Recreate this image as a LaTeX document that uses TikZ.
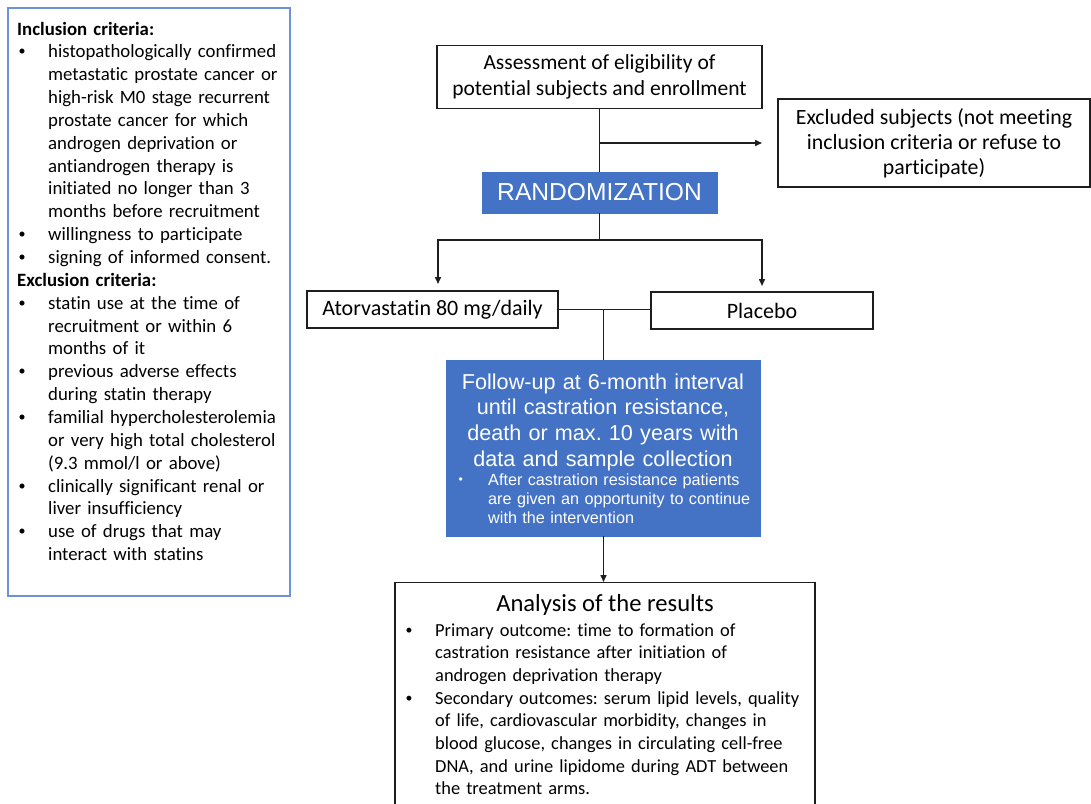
\documentclass[tikz,border=0pt]{standalone}
\usepackage{fontspec}
\usepackage{graphicx}
\setmainfont{Carlito}[Ligatures=NoCommon]
\newfontfamily\arialf{Liberation Sans}
\usetikzlibrary{arrows.meta}
\definecolor{rblue}{HTML}{4472C4}
\definecolor{frameblue}{HTML}{6C93D8}
\definecolor{ink}{HTML}{1E1E1E}
\newcommand{\smallbul}{\hspace{0.08em}\raisebox{0.1em}{\scalebox{0.75}{•}}}
\newcommand{\litemfirst}[1]{\hangindent=#1\hangafter=1\noindent\makebox[#1][l]{\smallbul}}
\newcommand{\litem}[1]{\par\litemfirst{#1}}
\newcommand{\lhead}[1]{\par\noindent\textbf{#1}}
\frenchspacing
\begin{document}
\begin{tikzpicture}[x=1pt,y=-1pt,
  box/.style={draw=ink, line width=1.3pt, fill=white, inner sep=0pt},
  bluebox/.style={fill=rblue, draw=rblue, inner sep=0pt},
  conn/.style={draw=ink, line width=1.5pt},
  arr/.style={conn, -{Triangle[length=7pt,width=6pt]}},
  txt/.style={inner sep=0pt}
]
\useasboundingbox (0,0) rectangle (1091,803);
\fill[white] (0,0) rectangle (1091,803);

% criteria box
\node[draw=frameblue, line width=1.3pt, minimum width=282pt, minimum height=588pt, inner sep=0pt] (crit) at (149,302) {};
\node[txt, anchor=base west, text width=272pt, font=\frenchspacing\fontsize{18.8}{22.85}\selectfont] (crittext) at (17,35) {%
\noindent\textbf{Inclusion criteria:}
\litem{31pt}histopathologically confirmed\newline metastatic prostate cancer or\newline high-risk M0 stage recurrent\newline prostate cancer for which\newline androgen deprivation or\newline antiandrogen therapy is\newline initiated no longer than 3\newline months before recruitment
\litem{31pt}willingness to participate
\litem{31pt}signing of informed consent.
\lhead{Exclusion criteria:}
\litem{31pt}statin use at the time of\newline recruitment or within 6\newline months of it
\litem{31pt}previous adverse effects\newline during statin therapy
\litem{31pt}familial hypercholesterolemia\newline or very high total cholesterol\newline (9.3 mmol/l or above)
\litem{31pt}clinically significant renal or\newline liver insufficiency
\litem{31pt}use of drugs that may\newline interact with statins\par};

% main flow
\node[box, minimum width=325pt, minimum height=63pt, align=center, font=\fontsize{21.5}{26.5}\selectfont] (assess) at (599.5,77) {Assessment of eligibility of\\ potential subjects and enrollment};
\node[box, minimum width=312pt, minimum height=88pt, align=center, font=\fontsize{21.8}{25}\selectfont] (excl) at (934,143) {Excluded subjects (not meeting\\ inclusion criteria or refuse to\\ participate)};
\node[bluebox, minimum width=235pt, minimum height=41pt, text=white, font=\arialf\fontsize{24.6}{28}\selectfont] (rand) at (599.5,192.5) {RANDOMIZATION};
\node[box, minimum width=251pt, minimum height=37pt, font=\fontsize{22}{24}\selectfont] (ator) at (432.5,309.5) {Atorvastatin 80 mg/daily};
\node[box, minimum width=222pt, minimum height=37pt, font=\fontsize{22}{24}\selectfont] (plac) at (762,310.5) {Placebo};

\node[bluebox, minimum width=314pt, minimum height=176pt] (follow) at (603.5,448) {};
\node[txt, anchor=base, text width=310pt, align=center, text=white, font=\arialf\fontsize{21.6}{25.7}\selectfont] (followtext) at (603,389) {Follow-up at 6-month interval\\ until castration resistance,\\ death or max. 10 years with\\ data and sample collection};
\node[txt, anchor=base west, text width=295pt, text=white, font=\arialf\frenchspacing\fontsize{16.2}{19}\selectfont] (followbul) at (457,485.5) {\litemfirst{31pt}After castration resistance patients\newline are given an opportunity to continue\newline with the intervention\par};

\node[box, minimum width=420pt, minimum height=232pt, anchor=north] (anal) at (605,582) {};
\node[txt, anchor=base, font=\fontsize{24.6}{27}\selectfont] (analtitle) at (605,611) {Analysis of the results};
\node[txt, anchor=base west, text width=405pt, font=\frenchspacing\fontsize{18.4}{22.7}\selectfont] (analtext) at (404,636) {%
\litemfirst{31pt}Primary outcome: time to formation of\newline castration resistance after initiation of\newline androgen deprivation therapy
\litem{31pt}Secondary outcomes: serum lipid levels, quality\newline of life, cardiovascular morbidity, changes in\newline blood glucose, changes in circulating cell-free\newline DNA, and urine lipidome during ADT between\newline the treatment arms.\par};

% connectors
\coordinate (exj) at (assess.south |- 0,143);
\coordinate (exend) at (762,143);
\coordinate (split) at (rand.south |- 0,240);
\coordinate (slend) at (438,284);
\coordinate (srend) at (762,286);
\coordinate (mj) at (follow.north |- ator.east);

\draw[conn] (assess.south) -- (rand.north);
\draw[arr] (exj) -- (exend);
\draw[conn] (rand.south) -- (split);
\draw[arr] (split) -| (slend);
\draw[arr] (split) -| (srend);
\draw[conn] (ator.east) -- (ator.east -| plac.west);
\draw[conn] (mj) -- (follow.north);
\draw[arr] (follow.south) -- (follow.south |- anal.north);
\end{tikzpicture}
\end{document}
